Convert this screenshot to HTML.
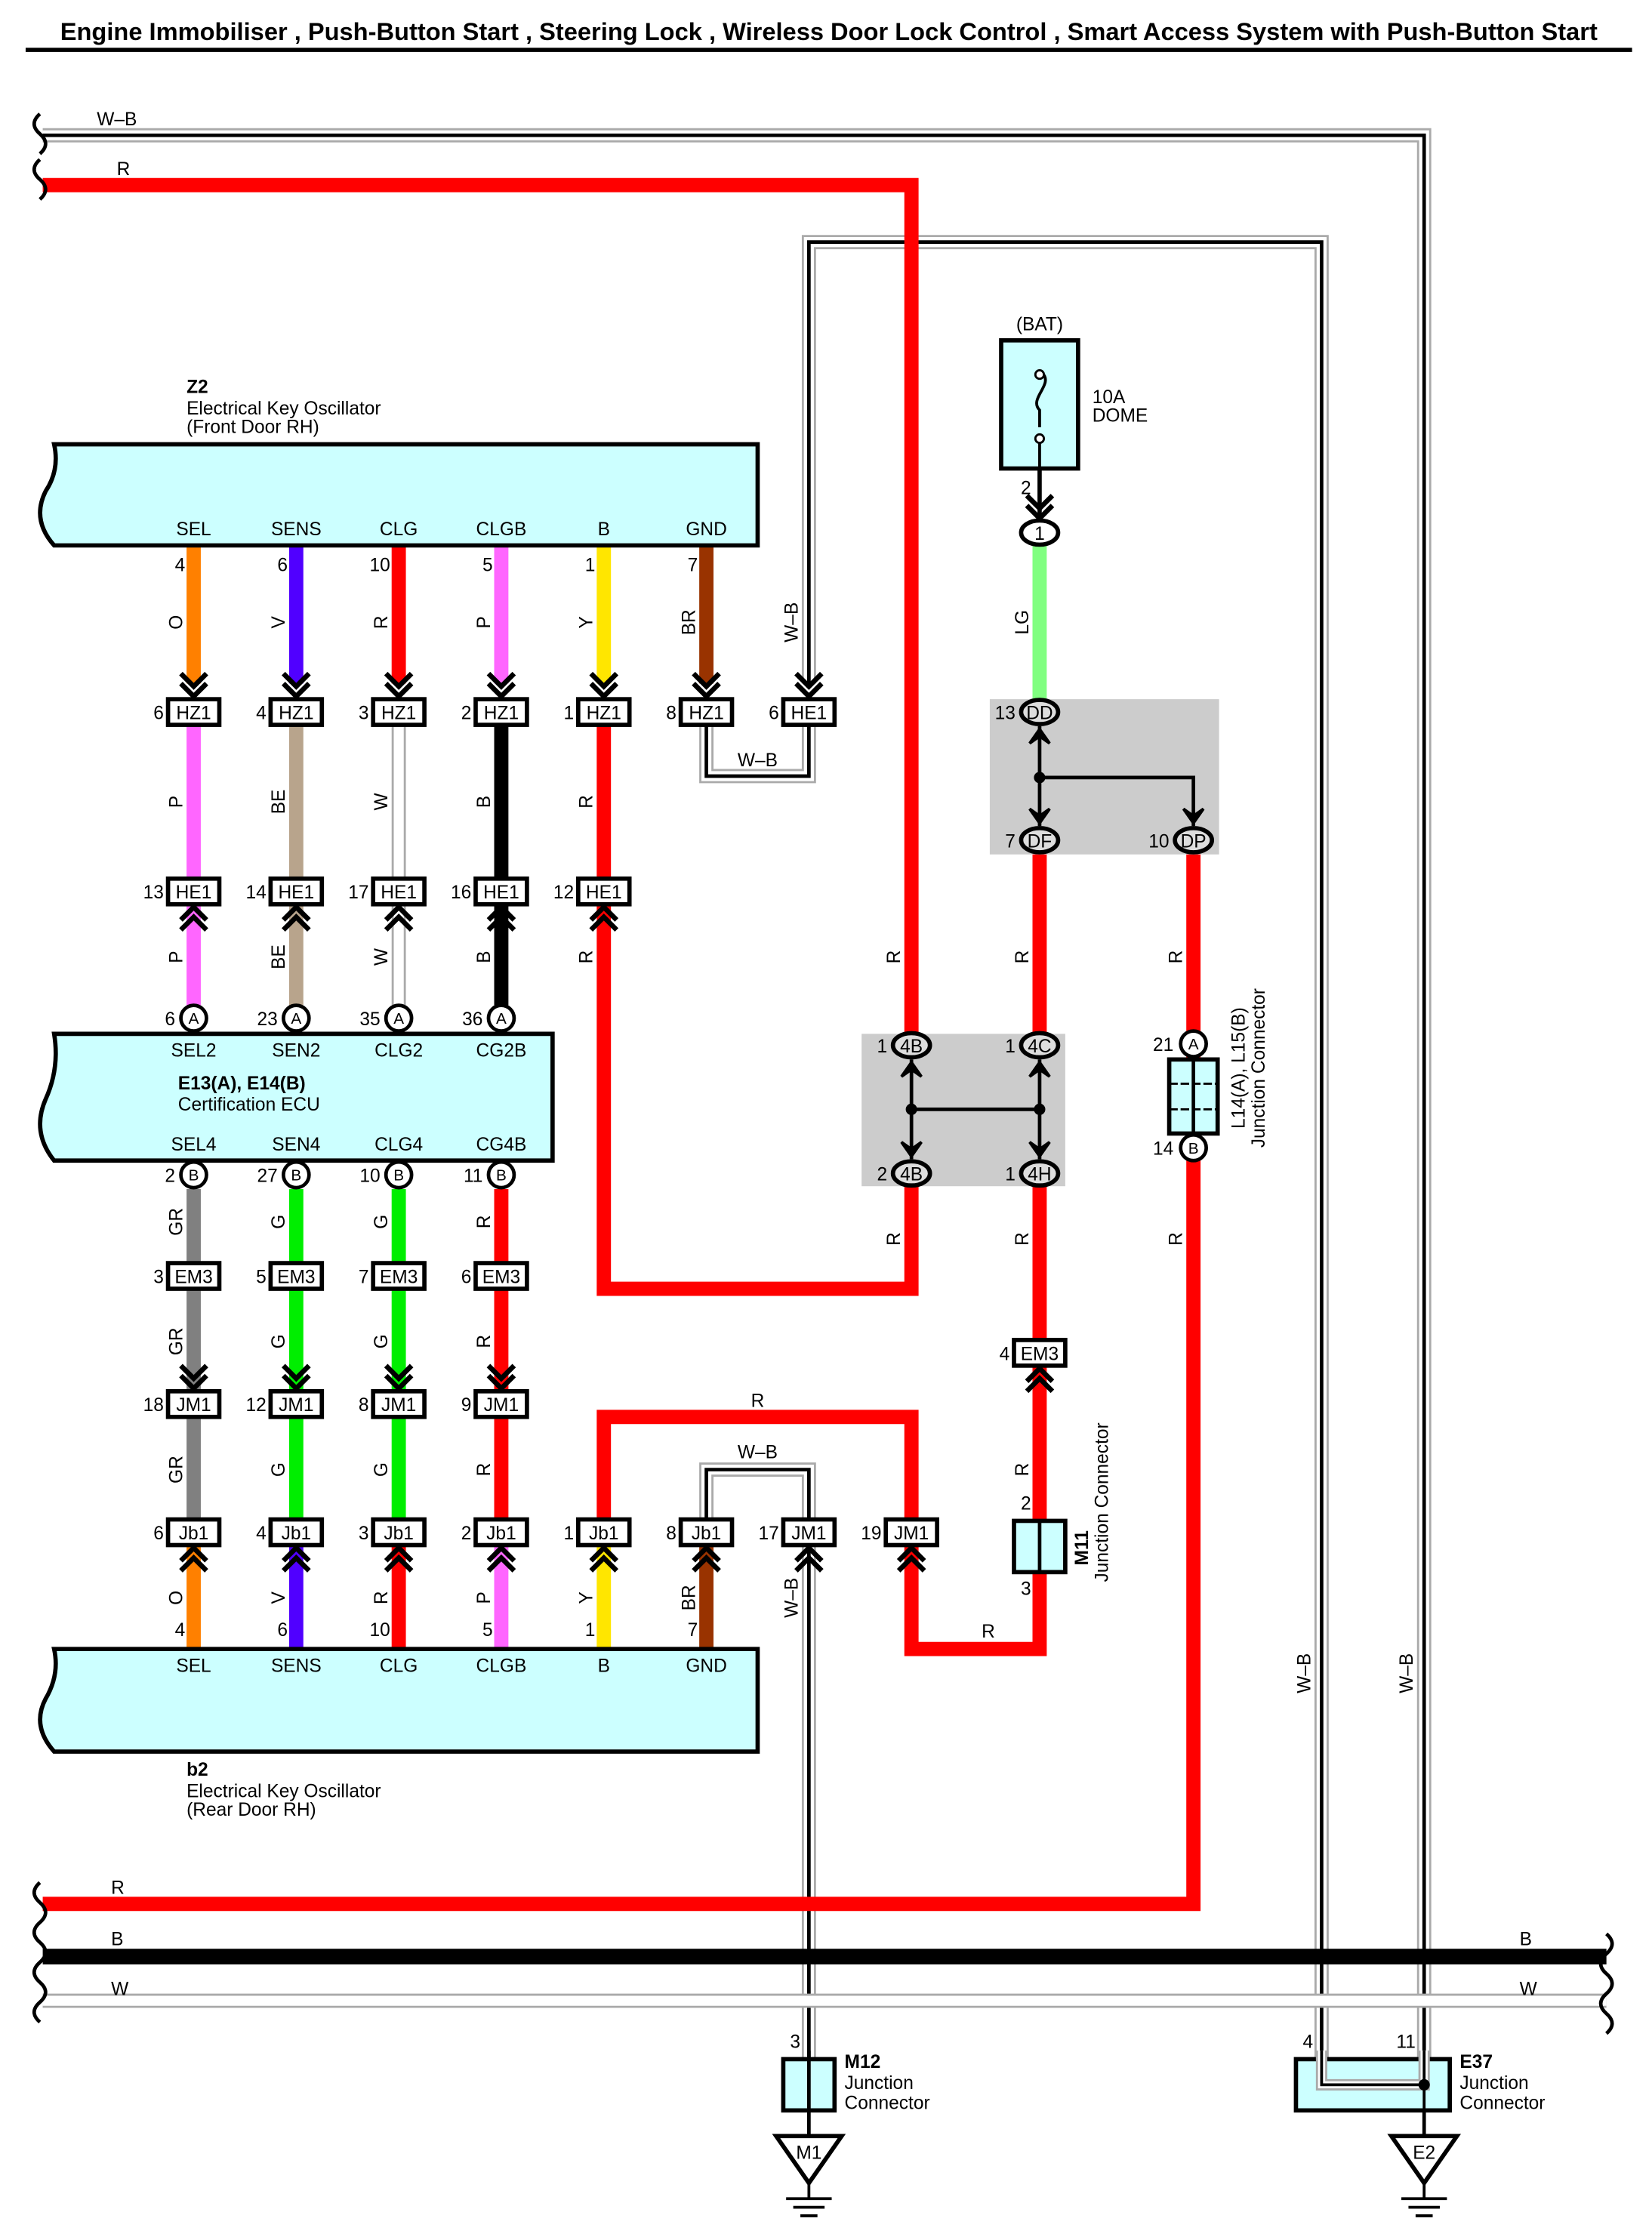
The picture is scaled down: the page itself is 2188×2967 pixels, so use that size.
<!DOCTYPE html>
<html><head><meta charset="utf-8"><style>
html,body{margin:0;padding:0;background:#fff}
svg{display:block}
text{font-family:"Liberation Sans",Arial,sans-serif;font-size:13px;fill:#000}
.b{font-weight:bold}
.c{text-anchor:middle}
.e{text-anchor:end}
</style></head><body>
<svg width="2188" height="2967" viewBox="0 0 1160 1573" xmlns="http://www.w3.org/2000/svg">
<defs>
<g id="cd"><path d="M-9,-17 L0,-8 L9,-17 M-9,-10 L0,-1 L9,-10" fill="none" stroke="#000" stroke-width="3.5"/></g>
<g id="cu"><path d="M-9,17 L0,8 L9,17 M-9,10 L0,1 L9,10" fill="none" stroke="#000" stroke-width="3.5"/></g>
<rect id="bx" x="-18" y="-9" width="36" height="18" fill="#fff" stroke="#000" stroke-width="3"/>
<ellipse id="ov" cx="0" cy="0" rx="13" ry="8.5" fill="#ddd" stroke="#000" stroke-width="3"/>
<ellipse id="ovw" cx="0" cy="0" rx="13" ry="8.5" fill="#fff" stroke="#000" stroke-width="3"/>
<circle id="ci" cx="0" cy="0" r="9" fill="#fff" stroke="#000" stroke-width="2.5"/>
<path id="ad" d="M-7,-12 L0,-2 L7,-12 L0,-7 Z" fill="#000" stroke="#000" stroke-width="2"/>
<path id="au" d="M-7,12 L0,2 L7,12 L0,7 Z" fill="#000" stroke="#000" stroke-width="2"/>
</defs>

<text x="582" y="28" class="b c" style="font-size:17.3px">Engine Immobiliser , Push-Button Start , Steering Lock , Wireless Door Lock Control , Smart Access System with Push-Button Start</text>
<line x1="18" y1="35" x2="1146" y2="35" stroke="#000" stroke-width="3"/>

<rect x="695" y="491" width="161" height="109" fill="#ccc"/>
<rect x="605" y="726" width="143" height="107" fill="#ccc"/>

<g fill="none">
<path d="M30,95 H1000 V1465" stroke="#aaa" stroke-width="10"/>
<path d="M30,95 H1000 V1465" stroke="#fff" stroke-width="7"/>
<path d="M30,95 H1000 V1465" stroke="#000" stroke-width="2.5"/>
<path d="M568,480 V170 H928 V1462 H1000" stroke="#aaa" stroke-width="10"/>
<path d="M568,480 V170 H928 V1462 H1000" stroke="#fff" stroke-width="7"/>
<path d="M568,480 V170 H928 V1462 H1000" stroke="#000" stroke-width="2.5"/>
<path d="M496,509 V545 H568 V509" stroke="#aaa" stroke-width="10"/>
<path d="M496,509 V545 H568 V509" stroke="#fff" stroke-width="7"/>
<path d="M496,509 V545 H568 V509" stroke="#000" stroke-width="2.5"/>
<path d="M496,1066 V1032 H568 V1446" stroke="#aaa" stroke-width="10"/>
<path d="M496,1066 V1032 H568 V1446" stroke="#fff" stroke-width="7"/>
<path d="M496,1066 V1032 H568 V1446" stroke="#000" stroke-width="2.5"/>
<path d="M30,1405 H1128" stroke="#aaa" stroke-width="10"/>
<path d="M30,1405 H1128" stroke="#fff" stroke-width="7"/>
<path d="M280,509 V617" stroke="#aaa" stroke-width="10"/>
<path d="M280,509 V617" stroke="#fff" stroke-width="7"/>
<path d="M280,635 V706" stroke="#aaa" stroke-width="10"/>
<path d="M280,635 V706" stroke="#fff" stroke-width="7"/>
</g>

<g fill="none" stroke="#f00" stroke-width="10">
<path d="M30,130 H640 V726"/>
<path d="M424,509 V905 H640 V833"/>
<path d="M730,600 V726"/>
<path d="M730,833 V1068"/>
<path d="M730,1104 V1158 H640 V1085"/>
<path d="M424,1066 V995 H640 V1066"/>
<path d="M838,600 V1337 H30"/>
<path d="M280,383 V480"/>
<path d="M352,835 V1066"/>
<path d="M280,1085 V1158"/>
</g>
<line x1="30" y1="1374" x2="1128" y2="1374" stroke="#000" stroke-width="11"/>

<g fill="none" stroke-width="10">
<path d="M136,383 V480" stroke="#ff8000"/>
<path d="M208,383 V480" stroke="#5000ff"/>
<path d="M352,383 V480" stroke="#ff66ff"/>
<path d="M424,383 V480" stroke="#ffe600"/>
<path d="M496,383 V480" stroke="#993300"/>
<path d="M730,383 V491" stroke="#80ff80"/>
<path d="M136,509 V706" stroke="#ff66ff"/>
<path d="M208,509 V706" stroke="#b8a48c"/>
<path d="M352,509 V706" stroke="#000"/>
<path d="M136,835 V1066" stroke="#808080"/>
<path d="M208,835 V1066" stroke="#00ee00"/>
<path d="M280,835 V1066" stroke="#00ee00"/>
<path d="M136,1085 V1158" stroke="#ff8000"/>
<path d="M208,1085 V1158" stroke="#5000ff"/>
<path d="M352,1085 V1158" stroke="#ff66ff"/>
<path d="M424,1085 V1158" stroke="#ffe600"/>
<path d="M496,1085 V1158" stroke="#993300"/>
</g>

<g fill="none" stroke="#000" stroke-width="2.5">
<path d="M28,80 q-8,7 0,14 q8,7 0,14 M28,112 q-8,7 0,14 q8,7 0,14"/>
<path d="M28,1322 q-8,7 0,14 q8,7 0,14 q-8,7 0,14 q8,7 0,14 q-8,7 0,14 q8,7 0,14 q-8,7 0,14"/>
<path d="M1128,1358 q8,7 0,14 q-8,7 0,14 q8,7 0,14 q-8,7 0,14 q8,7 0,14"/>
</g>

<path d="M38,312 H532 V383 H38 Q22,365 32,345 Q42,330 38,312 Z" fill="#ccffff" stroke="#000" stroke-width="3"/>
<text x="131" y="276" class="b">Z2</text>
<text x="131" y="291">Electrical Key Oscillator</text>
<text x="131" y="304">(Front Door RH)</text>
<text x="136" y="376" class="c">SEL</text><text x="208" y="376" class="c">SENS</text><text x="280" y="376" class="c">CLG</text><text x="352" y="376" class="c">CLGB</text><text x="424" y="376" class="c">B</text><text x="496" y="376" class="c">GND</text>
<text x="130" y="401" class="e">4</text><text x="202" y="401" class="e">6</text><text x="274" y="401" class="e">10</text><text x="346" y="401" class="e">5</text><text x="418" y="401" class="e">1</text><text x="490" y="401" class="e">7</text>
<g>
<text transform="translate(128,437) rotate(-90)" class="c">O</text>
<text transform="translate(200,437) rotate(-90)" class="c">V</text>
<text transform="translate(272,437) rotate(-90)" class="c">R</text>
<text transform="translate(344,437) rotate(-90)" class="c">P</text>
<text transform="translate(416,437) rotate(-90)" class="c">Y</text>
<text transform="translate(488,437) rotate(-90)" class="c">BR</text>
<text transform="translate(560,437) rotate(-90)" class="c">W–B</text>
<text transform="translate(722,437) rotate(-90)" class="c">LG</text>
</g>
<use href="#cd" x="136" y="490"/><use href="#cd" x="208" y="490"/><use href="#cd" x="280" y="490"/><use href="#cd" x="352" y="490"/><use href="#cd" x="424" y="490"/><use href="#cd" x="496" y="490"/><use href="#cd" x="568" y="490"/>
<use href="#bx" x="136" y="500"/><use href="#bx" x="208" y="500"/><use href="#bx" x="280" y="500"/><use href="#bx" x="352" y="500"/><use href="#bx" x="424" y="500"/><use href="#bx" x="496" y="500"/><use href="#bx" x="568" y="500"/>
<text x="136" y="505" class="c">HZ1</text><text x="208" y="505" class="c">HZ1</text><text x="280" y="505" class="c">HZ1</text><text x="352" y="505" class="c">HZ1</text><text x="424" y="505" class="c">HZ1</text><text x="496" y="505" class="c">HZ1</text><text x="568" y="505" class="c">HE1</text>
<text x="115" y="505" class="e">6</text><text x="187" y="505" class="e">4</text><text x="259" y="505" class="e">3</text><text x="331" y="505" class="e">2</text><text x="403" y="505" class="e">1</text><text x="475" y="505" class="e">8</text><text x="547" y="505" class="e">6</text>
<text x="532" y="538" class="c">W–B</text>
<text transform="translate(128,563) rotate(-90)" class="c">P</text>
<text transform="translate(200,563) rotate(-90)" class="c">BE</text>
<text transform="translate(272,563) rotate(-90)" class="c">W</text>
<text transform="translate(344,563) rotate(-90)" class="c">B</text>
<text transform="translate(416,563) rotate(-90)" class="c">R</text>
<use href="#bx" x="136" y="626"/><use href="#bx" x="208" y="626"/><use href="#bx" x="280" y="626"/><use href="#bx" x="352" y="626"/><use href="#bx" x="424" y="626"/>
<text x="136" y="631" class="c">HE1</text><text x="208" y="631" class="c">HE1</text><text x="280" y="631" class="c">HE1</text><text x="352" y="631" class="c">HE1</text><text x="424" y="631" class="c">HE1</text>
<text x="115" y="631" class="e">13</text><text x="187" y="631" class="e">14</text><text x="259" y="631" class="e">17</text><text x="331" y="631" class="e">16</text><text x="403" y="631" class="e">12</text>
<use href="#cu" x="136" y="636"/><use href="#cu" x="208" y="636"/><use href="#cu" x="280" y="636"/><use href="#cu" x="352" y="636"/><use href="#cu" x="424" y="636"/>
<text transform="translate(128,672) rotate(-90)" class="c">P</text>
<text transform="translate(200,672) rotate(-90)" class="c">BE</text>
<text transform="translate(272,672) rotate(-90)" class="c">W</text>
<text transform="translate(344,672) rotate(-90)" class="c">B</text>
<text transform="translate(416,672) rotate(-90)" class="c">R</text>
<text transform="translate(632,672) rotate(-90)" class="c">R</text>
<text transform="translate(722,672) rotate(-90)" class="c">R</text>
<text transform="translate(830,672) rotate(-90)" class="c">R</text>

<path d="M38,726 H388 V815 H38 Q22,795 32,772 Q42,750 38,726 Z" fill="#ccffff" stroke="#000" stroke-width="3"/>
<use href="#ci" x="136" y="715"/><use href="#ci" x="208" y="715"/><use href="#ci" x="280" y="715"/><use href="#ci" x="352" y="715"/>
<text x="136" y="719" class="c" style="font-size:11px">A</text><text x="208" y="719" class="c" style="font-size:11px">A</text><text x="280" y="719" class="c" style="font-size:11px">A</text><text x="352" y="719" class="c" style="font-size:11px">A</text>
<text x="123" y="720" class="e">6</text><text x="195" y="720" class="e">23</text><text x="267" y="720" class="e">35</text><text x="339" y="720" class="e">36</text>
<text x="136" y="742" class="c">SEL2</text><text x="208" y="742" class="c">SEN2</text><text x="280" y="742" class="c">CLG2</text><text x="352" y="742" class="c">CG2B</text>
<text x="125" y="765" class="b">E13(A), E14(B)</text>
<text x="125" y="780">Certification ECU</text>
<text x="136" y="808" class="c">SEL4</text><text x="208" y="808" class="c">SEN4</text><text x="280" y="808" class="c">CLG4</text><text x="352" y="808" class="c">CG4B</text>
<use href="#ci" x="136" y="825"/><use href="#ci" x="208" y="825"/><use href="#ci" x="280" y="825"/><use href="#ci" x="352" y="825"/>
<text x="136" y="829" class="c" style="font-size:11px">B</text><text x="208" y="829" class="c" style="font-size:11px">B</text><text x="280" y="829" class="c" style="font-size:11px">B</text><text x="352" y="829" class="c" style="font-size:11px">B</text>
<text x="123" y="830" class="e">2</text><text x="195" y="830" class="e">27</text><text x="267" y="830" class="e">10</text><text x="339" y="830" class="e">11</text>

<text transform="translate(128,858) rotate(-90)" class="c">GR</text>
<text transform="translate(200,858) rotate(-90)" class="c">G</text>
<text transform="translate(272,858) rotate(-90)" class="c">G</text>
<text transform="translate(344,858) rotate(-90)" class="c">R</text>
<text transform="translate(632,870) rotate(-90)" class="c">R</text>
<text transform="translate(722,870) rotate(-90)" class="c">R</text>
<text transform="translate(830,870) rotate(-90)" class="c">R</text>
<use href="#bx" x="136" y="896"/><use href="#bx" x="208" y="896"/><use href="#bx" x="280" y="896"/><use href="#bx" x="352" y="896"/>
<text x="136" y="901" class="c">EM3</text><text x="208" y="901" class="c">EM3</text><text x="280" y="901" class="c">EM3</text><text x="352" y="901" class="c">EM3</text>
<text x="115" y="901" class="e">3</text><text x="187" y="901" class="e">5</text><text x="259" y="901" class="e">7</text><text x="331" y="901" class="e">6</text>
<text transform="translate(128,942) rotate(-90)" class="c">GR</text>
<text transform="translate(200,942) rotate(-90)" class="c">G</text>
<text transform="translate(272,942) rotate(-90)" class="c">G</text>
<text transform="translate(344,942) rotate(-90)" class="c">R</text>
<use href="#cd" x="136" y="976"/><use href="#cd" x="208" y="976"/><use href="#cd" x="280" y="976"/><use href="#cd" x="352" y="976"/>
<use href="#bx" x="136" y="986"/><use href="#bx" x="208" y="986"/><use href="#bx" x="280" y="986"/><use href="#bx" x="352" y="986"/>
<text x="136" y="991" class="c">JM1</text><text x="208" y="991" class="c">JM1</text><text x="280" y="991" class="c">JM1</text><text x="352" y="991" class="c">JM1</text>
<text x="115" y="991" class="e">18</text><text x="187" y="991" class="e">12</text><text x="259" y="991" class="e">8</text><text x="331" y="991" class="e">9</text>
<text transform="translate(128,1032) rotate(-90)" class="c">GR</text>
<text transform="translate(200,1032) rotate(-90)" class="c">G</text>
<text transform="translate(272,1032) rotate(-90)" class="c">G</text>
<text transform="translate(344,1032) rotate(-90)" class="c">R</text>
<text transform="translate(722,1032) rotate(-90)" class="c">R</text>
<text x="532" y="988" class="c">R</text>
<text x="532" y="1024" class="c">W–B</text>
<use href="#bx" x="136" y="1076"/><use href="#bx" x="208" y="1076"/><use href="#bx" x="280" y="1076"/><use href="#bx" x="352" y="1076"/><use href="#bx" x="424" y="1076"/><use href="#bx" x="496" y="1076"/><use href="#bx" x="568" y="1076"/><use href="#bx" x="640" y="1076"/>
<text x="136" y="1081" class="c">Jb1</text><text x="208" y="1081" class="c">Jb1</text><text x="280" y="1081" class="c">Jb1</text><text x="352" y="1081" class="c">Jb1</text><text x="424" y="1081" class="c">Jb1</text><text x="496" y="1081" class="c">Jb1</text><text x="568" y="1081" class="c">JM1</text><text x="640" y="1081" class="c">JM1</text>
<text x="115" y="1081" class="e">6</text><text x="187" y="1081" class="e">4</text><text x="259" y="1081" class="e">3</text><text x="331" y="1081" class="e">2</text><text x="403" y="1081" class="e">1</text><text x="475" y="1081" class="e">8</text><text x="547" y="1081" class="e">17</text><text x="619" y="1081" class="e">19</text>
<use href="#cu" x="136" y="1086"/><use href="#cu" x="208" y="1086"/><use href="#cu" x="280" y="1086"/><use href="#cu" x="352" y="1086"/><use href="#cu" x="424" y="1086"/><use href="#cu" x="496" y="1086"/><use href="#cu" x="568" y="1086"/><use href="#cu" x="640" y="1086"/>
<text transform="translate(128,1122) rotate(-90)" class="c">O</text>
<text transform="translate(200,1122) rotate(-90)" class="c">V</text>
<text transform="translate(272,1122) rotate(-90)" class="c">R</text>
<text transform="translate(344,1122) rotate(-90)" class="c">P</text>
<text transform="translate(416,1122) rotate(-90)" class="c">Y</text>
<text transform="translate(488,1122) rotate(-90)" class="c">BR</text>
<text transform="translate(560,1122) rotate(-90)" class="c">W–B</text>
<text x="694" y="1150" class="c">R</text>
<text x="130" y="1149" class="e">4</text><text x="202" y="1149" class="e">6</text><text x="274" y="1149" class="e">10</text><text x="346" y="1149" class="e">5</text><text x="418" y="1149" class="e">1</text><text x="490" y="1149" class="e">7</text>

<path d="M38,1158 H532 V1230 H38 Q22,1212 32,1193 Q42,1176 38,1158 Z" fill="#ccffff" stroke="#000" stroke-width="3"/>
<text x="136" y="1174" class="c">SEL</text><text x="208" y="1174" class="c">SENS</text><text x="280" y="1174" class="c">CLG</text><text x="352" y="1174" class="c">CLGB</text><text x="424" y="1174" class="c">B</text><text x="496" y="1174" class="c">GND</text>
<text x="131" y="1247" class="b">b2</text>
<text x="131" y="1262">Electrical Key Oscillator</text>
<text x="131" y="1275">(Rear Door RH)</text>

<text x="730" y="232" class="c">(BAT)</text>
<rect x="703" y="239" width="54" height="90" fill="#ccffff" stroke="#000" stroke-width="3"/>
<path d="M730,300 V288 C722,280 740,270 732,262 M730,310 V329" fill="none" stroke="#000" stroke-width="2"/>
<circle cx="730" cy="263" r="3" fill="#fff" stroke="#000" stroke-width="1.5"/>
<circle cx="730" cy="308" r="3" fill="#fff" stroke="#000" stroke-width="1.5"/>
<text x="767" y="283">10A</text><text x="767" y="296">DOME</text>
<line x1="730" y1="329" x2="730" y2="365" stroke="#000" stroke-width="3"/>
<text x="724" y="347" class="e">2</text>
<use href="#cd" x="730" y="365"/>
<use href="#ovw" x="730" y="374"/><text x="730" y="379" class="c">1</text>

<g stroke="#000" stroke-width="2.5" fill="none"><path d="M730,510 V580 M730,546 H838 V580"/></g>
<circle cx="730" cy="546" r="4" fill="#000"/>
<use href="#au" x="730" y="510"/><use href="#ad" x="730" y="580"/><use href="#ad" x="838" y="580"/>
<use href="#ov" x="730" y="500"/><text x="730" y="505" class="c">DD</text><text x="713" y="505" class="e">13</text>
<use href="#ov" x="730" y="590"/><text x="730" y="595" class="c">DF</text><text x="713" y="595" class="e">7</text>
<use href="#ov" x="838" y="590"/><text x="838" y="595" class="c">DP</text><text x="821" y="595" class="e">10</text>

<g stroke="#000" stroke-width="2.5" fill="none"><path d="M640,744 V814 M730,744 V814 M640,779 H730"/></g>
<circle cx="640" cy="779" r="4" fill="#000"/><circle cx="730" cy="779" r="4" fill="#000"/>
<use href="#au" x="640" y="744"/><use href="#au" x="730" y="744"/><use href="#ad" x="640" y="814"/><use href="#ad" x="730" y="814"/>
<use href="#ov" x="640" y="734"/><text x="640" y="739" class="c">4B</text><text x="623" y="739" class="e">1</text>
<use href="#ov" x="730" y="734"/><text x="730" y="739" class="c">4C</text><text x="713" y="739" class="e">1</text>
<use href="#ov" x="640" y="824"/><text x="640" y="829" class="c">4B</text><text x="623" y="829" class="e">2</text>
<use href="#ov" x="730" y="824"/><text x="730" y="829" class="c">4H</text><text x="713" y="829" class="e">1</text>

<rect x="821" y="744" width="34" height="52" fill="#ccffff" stroke="#000" stroke-width="3"/>
<path d="M838,744 V796" stroke="#000" stroke-width="2.5"/>
<path d="M821,761 H855 M821,779 H855" stroke="#000" stroke-width="1.5" stroke-dasharray="6,2"/>
<use href="#ci" x="838" y="733"/><text x="838" y="737" class="c" style="font-size:11px">A</text><text x="824" y="738" class="e">21</text>
<use href="#ci" x="838" y="806"/><text x="838" y="810" class="c" style="font-size:11px">B</text><text x="824" y="811" class="e">14</text>
<text transform="translate(874,750) rotate(-90)" class="c">L14(A), L15(B)</text>
<text transform="translate(888,750) rotate(-90)" class="c">Junction Connector</text>

<use href="#bx" x="730" y="950"/><text x="730" y="955" class="c">EM3</text><text x="709" y="955" class="e">4</text>
<use href="#cu" x="730" y="960"/>
<rect x="712" y="1068" width="36" height="36" fill="#ccffff" stroke="#000" stroke-width="3"/>
<line x1="730" y1="1068" x2="730" y2="1104" stroke="#000" stroke-width="2.5"/>
<text x="724" y="1060" class="e">2</text><text x="724" y="1120" class="e">3</text>
<text transform="translate(764,1087) rotate(-90)" class="b c">M11</text>
<text transform="translate(778,1055) rotate(-90)" class="c">Junction Connector</text>

<text x="82" y="123">R</text><text x="68" y="88">W–B</text>
<text x="78" y="1330">R</text>
<text x="78" y="1366">B</text><text x="1067" y="1366">B</text>
<text x="78" y="1401">W</text><text x="1067" y="1401">W</text>
<text transform="translate(920,1175) rotate(-90)" class="c">W–B</text>
<text transform="translate(992,1175) rotate(-90)" class="c">W–B</text>

<rect x="550" y="1446" width="36" height="36" fill="#ccffff" stroke="#000" stroke-width="3"/>
<line x1="568" y1="1440" x2="568" y2="1482" stroke="#000" stroke-width="2.5"/>
<text x="562" y="1438" class="e">3</text>
<text x="593" y="1452" class="b">M12</text><text x="593" y="1467">Junction</text><text x="593" y="1481">Connector</text>
<line x1="568" y1="1482" x2="568" y2="1500" stroke="#000" stroke-width="2.5"/>
<path d="M545,1500 H591 L568,1533 Z" fill="#fff" stroke="#000" stroke-width="3"/>
<text x="568" y="1516" class="c">M1</text>
<path d="M568,1533 V1544 M552,1544 H584 M557,1550 H579 M562,1556 H574" stroke="#000" stroke-width="2"/>

<rect x="910" y="1446" width="108" height="36" fill="#ccffff" stroke="#000" stroke-width="3"/>
<path d="M928,1440 V1464 H1000 V1440" fill="none" stroke="#aaa" stroke-width="8"/>
<path d="M928,1440 V1464 H1000 V1440" fill="none" stroke="#fff" stroke-width="5"/>
<path d="M928,1440 V1464 H1000 V1440 M1000,1464 V1482" fill="none" stroke="#000" stroke-width="2"/>
<circle cx="1000" cy="1464" r="4" fill="#000"/>
<text x="922" y="1438" class="e">4</text><text x="994" y="1438" class="e">11</text>
<text x="1025" y="1452" class="b">E37</text><text x="1025" y="1467">Junction</text><text x="1025" y="1481">Connector</text>
<line x1="1000" y1="1482" x2="1000" y2="1500" stroke="#000" stroke-width="2.5"/>
<path d="M977,1500 H1023 L1000,1533 Z" fill="#fff" stroke="#000" stroke-width="3"/>
<text x="1000" y="1516" class="c">E2</text>
<path d="M1000,1533 V1544 M984,1544 H1016 M989,1550 H1011 M994,1556 H1006" stroke="#000" stroke-width="2"/>
</svg>
</body></html>
